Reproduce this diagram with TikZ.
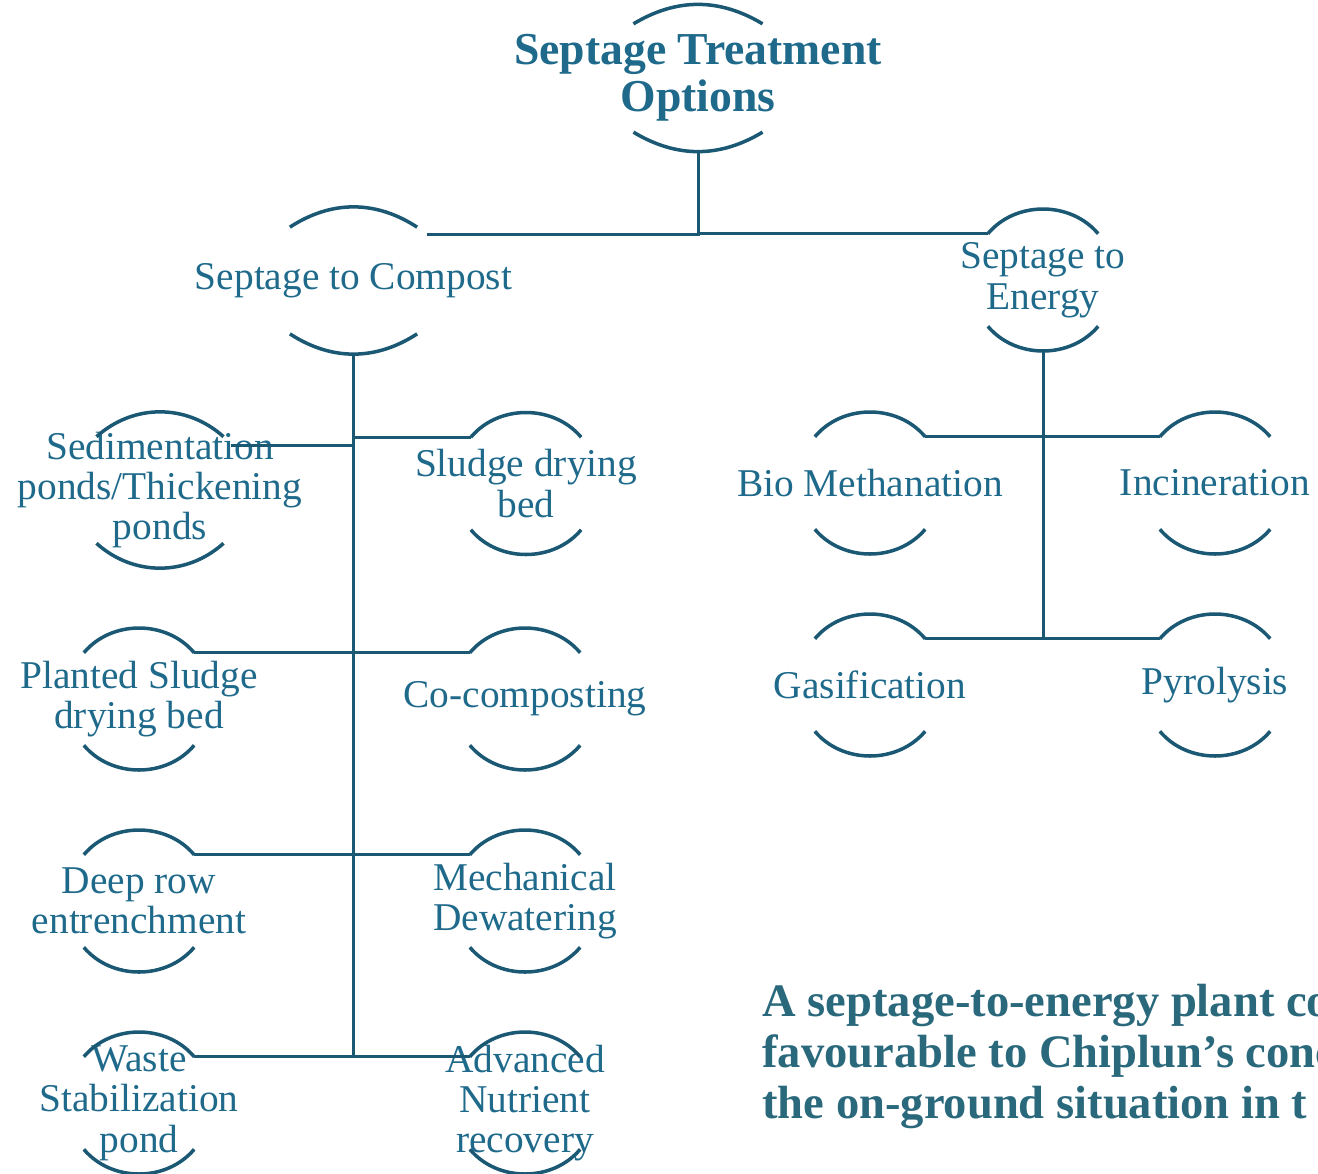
\documentclass[tikz,border=0pt]{standalone}
\usepackage{fontspec}
\setmainfont{Liberation Serif}
\definecolor{tealline}{HTML}{1A5873}
\definecolor{tealtext}{HTML}{1F6A8B}
\definecolor{tealnote}{HTML}{2A687C}
\usetikzlibrary{shapes.geometric}

\begin{document}
\begin{tikzpicture}[
    bub/.style={ellipse, inner sep=0pt, outer sep=0pt,
      minimum width=2.88cm, minimum height=2.88cm},
    lbl/.style={align=center, inner sep=0pt, text=tealtext,
      font=\fontsize{22.4}{23}\selectfont},
    toplbl/.style={lbl, font=\bfseries\fontsize{26}{27}\selectfont},
    link/.style={draw=tealline, line width=1.7pt},
    rim/.style={draw=tealline, line width=2pt}]
  \useasboundingbox (0,0) rectangle (26.36,-23.46);
  \clip (0,0) rectangle (26.36,-23.46);

  % top
  \node[bub, minimum width=3.92cm,
    label={[toplbl]center:Septage Treatment\\Options}] (root) at (13.96,-1.56) {};

  % two routes
  \node[bub, minimum width=3.76cm, minimum height=2.9cm,
    label={[lbl]center:Septage to Compost}] (compost) at (7.07,-5.61) {};
  \node[bub, label={[lbl]center:Septage to\\Energy}] (energy) at (20.86,-5.6) {};

  % compost side
  \node[bub, minimum width=3.48cm, minimum height=3.12cm,
    label={[lbl]center:Sedimentation\\ponds/Thickening\\ponds}] (sed) at (3.2,-9.8) {};
  \node[bub, label={[lbl]center:Sludge drying\\bed}] (sludge) at (10.52,-9.67) {};
  \node[bub, label={[lbl]center:Planted Sludge\\drying bed}] (planted) at (2.78,-13.98) {};
  \node[bub, label={[lbl]center:Co-composting}] (cocomp) at (10.5,-13.98) {};
  \node[bub, label={[lbl]center:Deep row\\entrenchment}] (deeprow) at (2.78,-18.02) {};
  \node[bub, label={[lbl]center:Mechanical\\Dewatering}] (mech) at (10.5,-18.02) {};
  \node[bub, label={[lbl]center:Waste\\Stabilization\\pond}] (waste) at (2.78,-22.06) {};
  \node[bub, label={[lbl]center:Advanced\\Nutrient\\recovery}] (nutrient) at (10.5,-22.06) {};

  % energy side
  \node[bub, label={[lbl]center:Bio Methanation}] (biometh) at (17.4,-9.66) {};
  \node[bub, label={[lbl]center:Incineration}] (incin) at (24.3,-9.66) {};
  \node[bub, label={[lbl]center:Gasification}] (gasif) at (17.4,-13.7) {};
  \node[bub, label={[lbl]center:Pyrolysis}] (pyro) at (24.3,-13.7) {};

  % open rims above and below each bubble
  \foreach \n/\b in {root/31,compost/33,energy/50,sed/42,sludge/50,planted/50,
      cocomp/50,deeprow/50,mech/50,waste/50,nutrient/50,biometh/50,incin/50,
      gasif/50,pyro/50}{
    \draw[rim] (\n.40) to[bend right=\b] (\n.140);
    \draw[rim] (\n.220) to[bend right=\b] (\n.320);
  }

  % tree lines
  \draw[link] (root.south) |- (compost.32);
  \draw[link] (root.south) |- (energy.140);
  \draw[link] (compost.south) -- (compost.south |- waste.40);
  \draw[link] (sed.32) -- (sed.32 -| compost.south);
  \draw[link] (compost.south |- sludge.140) -- (sludge.140);
  \draw[link] (planted.40) -- (cocomp.140);
  \draw[link] (deeprow.40) -- (mech.140);
  \draw[link] (waste.40) -- (nutrient.140);
  \draw[link] (energy.south) -- (energy.south |- gasif.40);
  \draw[link] (biometh.40) -- (incin.140);
  \draw[link] (gasif.40) -- (pyro.140);

  \node[anchor=north west, align=left, inner sep=0pt, text=tealnote,
    font=\bfseries\fontsize{26.5}{29}\selectfont] (note) at (15.24,-19.68)
    {A septage-to-energy plant co\\favourable to Chiplun's conc\\the on-ground situation in t};
\end{tikzpicture}
\end{document}
